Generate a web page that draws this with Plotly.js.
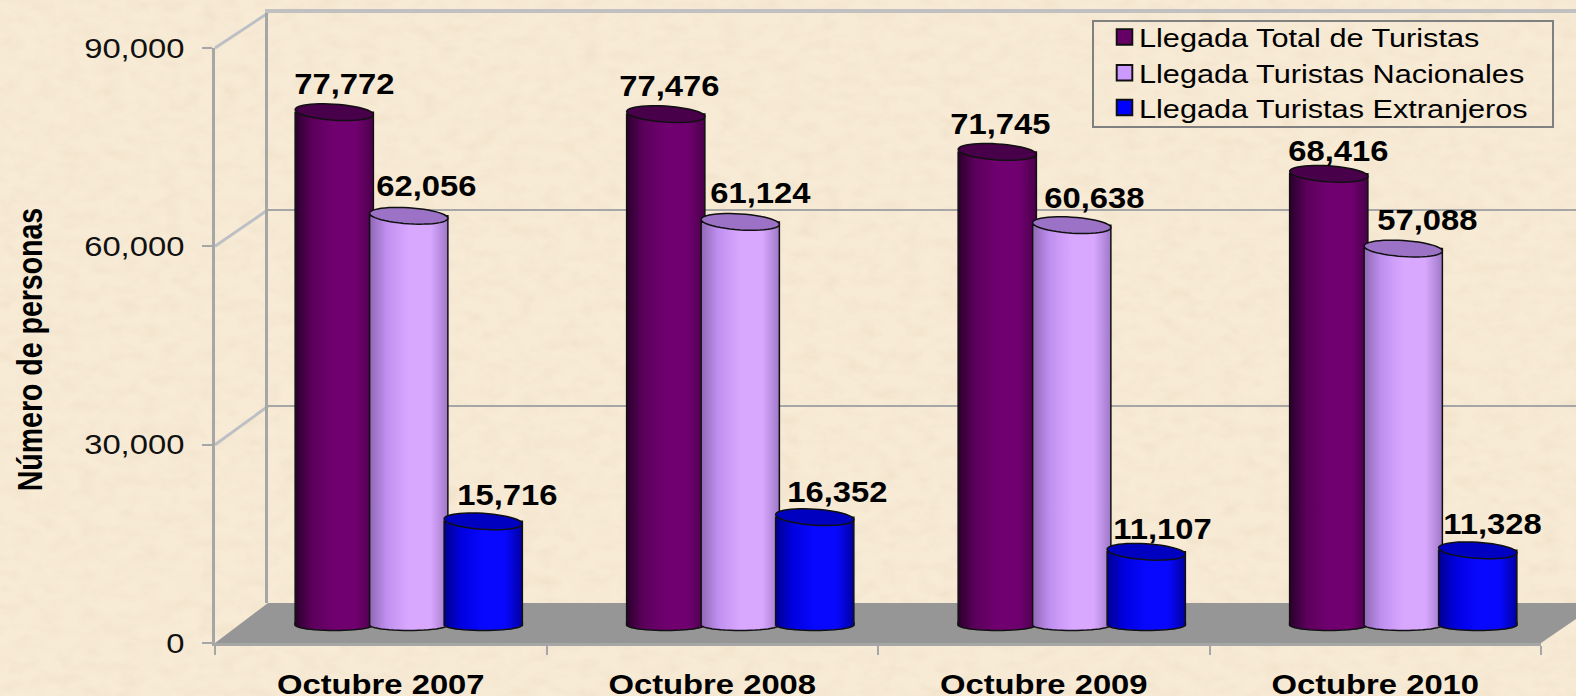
<!DOCTYPE html>
<html><head><meta charset="utf-8">
<script src="https://cdn.plot.ly/plotly-3.0.1.min.js"></script>
<style>
html,body{margin:0;padding:0;background:#f7e9d3;overflow:hidden}
#bg{position:absolute;left:0;top:0}
#chart{position:absolute;left:0;top:0;width:1576px;height:696px}
</style></head><body>
<svg id="bg" width="1576" height="696">
<filter id="paper" x="0" y="0" width="100%" height="100%">
<feTurbulence type="fractalNoise" baseFrequency="0.05 0.08" numOctaves="4" seed="7"/>
<feColorMatrix type="matrix" values="0 0 0 0 0.82  0 0 0 0 0.70  0 0 0 0 0.52  0.6 0.6 0 0 -0.50"/>
</filter>
<rect width="1576" height="696" fill="#f8ebd6"/>
<rect width="1576" height="696" filter="url(#paper)"/>
</svg>
<div id="chart"></div>
<script>
const categories = ['Octubre 2007','Octubre 2008','Octubre 2009','Octubre 2010'];
const totalTuristas = [77772,77476,71745,68416];
const nacionales = [62056,61124,60638,57088];
const extranjeros = [15716,16352,11107,11328];
const seriesNames = ['Llegada Total de Turistas','Llegada Turistas Nacionales','Llegada Turistas Extranjeros'];
const yTicks = [0,30000,60000,90000];

const W=1576,H=696, FONT='"Liberation Sans",Arial,sans-serif', STRETCH=1.17;
const series=[totalTuristas,nacionales,extranjeros];
const bodyColors=['#660066','#CC99FF','#0000FF'];
const topColors=['#48004a','#9b72c6','#0000c0'];
const stops=[['#2a002c','#5c005c','#700070','#700070','#4a004a'],
             ['#8f68b4','#c090f0','#d8a8ff','#d8a8ff','#a078c8'],
             ['#000090','#0000e0','#0808ff','#0808ff','#0000a0']];
const barW=0.236, barStep=0.2247;
// label placement relative to the top of each bar (pixels)
const labelDx=[[10,4,3,10],[18,20,23,24],[24,23,16,15]];
const labelDy=[[28,28,28,23],[30,29,27,29],[26,25,23,26]];

const domY=(top,bot)=>[1-bot/H,1-top/H];
const frontScale=595/90000, pxPerUnit=593.5/90000;
const base=625, floorPad=2000;

const traces=series.map((v,i)=>({
  type:'bar',name:seriesNames[i],x:categories.map((_,k)=>k),y:v,xaxis:'x3',yaxis:'y3',
  width:barW,offset:(i-1)*barStep-barW/2,
  marker:{color:bodyColors[i],line:{color:'#101010',width:1.5}},hoverinfo:'skip'
}));
traces.push({type:'scatter',x:[0],y:[0],mode:'markers',opacity:0,showlegend:false,hoverinfo:'skip',xaxis:'x',yaxis:'y'});
traces.push({type:'scatter',x:categories,y:categories.map(()=>0),mode:'markers',opacity:0,showlegend:false,hoverinfo:'skip',xaxis:'x2',yaxis:'y2'});

function ellipse(cx,cy,rx,hhPx,tiltPx){
  let d='';
  for(let k=0;k<=48;k++){
    const t=k/48*2*Math.PI;
    const x=cx+rx*Math.cos(t);
    const y=cy+(hhPx*Math.sin(t)+tiltPx*Math.cos(t))/pxPerUnit;
    d+=(k?'L':'M')+x.toFixed(4)+','+y.toFixed(1);
  }
  return d+'Z';
}
// lower half of the base ellipse, open along the top so only the arc is outlined
function baseArc(cx,rx,hhPx,liftPx){
  let d='M'+(cx+rx).toFixed(4)+','+(liftPx/pxPerUnit).toFixed(1);
  for(let k=0;k<=24;k++){
    const t=k/24*Math.PI;
    d+='L'+(cx+rx*Math.cos(t)).toFixed(4)+','+((-hhPx*Math.sin(t))/pxPerUnit).toFixed(1);
  }
  return d+'L'+(cx-rx).toFixed(4)+','+(liftPx/pxPerUnit).toFixed(1);
}
const shapes=[];
// floor
shapes.push({type:'path',xref:'paper',yref:'paper',layer:'below',fillcolor:'#969696',line:{width:0},
  path:`M${215/W},${1-643/H} L${268/W},${1-603/H} L1,${1-603/H} L1,${1-619/H} L${1541/W},${1-643/H} Z`});
// side wall diagonals
const yFront=v=>643-v*frontScale, yBack=v=>603-v*(590/90000);
yTicks.slice(1).forEach(v=>shapes.push({type:'line',xref:'paper',yref:'paper',layer:'below',
  x0:215/W,x1:268/W,y0:1-yFront(v)/H,y1:1-yBack(v)/H,line:{color:'#bcc0c4',width:3}}));
// cylinder bases and tops, in front of the bar bodies
const bottomIdx=[];
series.forEach((v,i)=>{
  v.forEach((val,k)=>{
    const cx=k+(i-1)*barStep;
    bottomIdx.push([shapes.length,i]);
    shapes.push({type:'path',xref:'x3',yref:'y3',layer:'above',fillcolor:bodyColors[i],line:{color:'#101010',width:1.5},
      path:baseArc(cx,barW/2,5.5,3)});
    shapes.push({type:'path',xref:'x3',yref:'y3',layer:'above',fillcolor:topColors[i],line:{color:'#101010',width:1.5},
      path:ellipse(cx,val,barW/2,8,-2.5)});
  });
});

const annotations=[];
series.forEach((v,i)=>v.forEach((val,k)=>annotations.push({
  x:k+(i-1)*barStep,y:val,xref:'x3',yref:'y3',text:val.toLocaleString('en-US'),showarrow:false,
  xanchor:'center',yanchor:'middle',xshift:labelDx[i][k],yshift:labelDy[i][k],
  font:{family:FONT,size:29,color:'#000',weight:700}
})));

const gridGrey='#a6a6a6';
const layout={
  width:W,height:H,margin:{l:0,r:0,t:0,b:0},paper_bgcolor:'rgba(0,0,0,0)',plot_bgcolor:'rgba(0,0,0,0)',
  barmode:'overlay',showlegend:true,
  legend:{x:1092/W,y:1-20/H,xanchor:'left',yanchor:'top',bgcolor:'rgba(0,0,0,0)',bordercolor:'#808080',borderwidth:2,
    font:{family:FONT,size:26,color:'#000'},itemwidth:35,traceorder:'normal',entrywidth:491,entrywidthmode:'pixels'},
  xaxis:{domain:[268/W,1],range:[0,1],anchor:'y',side:'top',showline:true,linecolor:'#c0c0c0',linewidth:4,
    showticklabels:false,ticks:'',showgrid:false,zeroline:false},
  yaxis:{domain:domY(13,603),range:[0,90000],anchor:'x',tickvals:yTicks,showticklabels:false,ticks:'',
    showgrid:true,gridcolor:gridGrey,gridwidth:2,zeroline:false,showline:true,linecolor:gridGrey,linewidth:3},
  xaxis2:{domain:[215/W,1541/W],type:'category',categoryorder:'array',categoryarray:categories,range:[-0.5,3.5],anchor:'y2',
    tickson:'boundaries',ticks:'outside',ticklen:9,tickwidth:2,tickcolor:gridGrey,showline:true,linecolor:gridGrey,linewidth:3,
    showgrid:false,zeroline:false,ticklabelstandoff:14,tickfont:{family:FONT,size:28,color:'#000',weight:700}},
  yaxis2:{domain:domY(48,643),range:[0,90000],anchor:'x2',tickvals:yTicks,tickformat:',d',ticks:'outside',ticklen:10,tickwidth:2,
    tickcolor:gridGrey,showline:true,linecolor:gridGrey,linewidth:3,showgrid:false,zeroline:false,ticklabelstandoff:12,
    tickfont:{family:FONT,size:28,color:'#111'},
    title:{text:'Número de personas',font:{family:FONT,size:28.5,color:'#000',weight:700},standoff:51}},
  xaxis3:{domain:[243/W,1569/W],range:[-0.5,3.5],anchor:'y3',visible:false},
  yaxis3:{domain:domY(base-90000*pxPerUnit,base+floorPad*pxPerUnit),range:[-floorPad,90000],anchor:'x3',visible:false},
  shapes,annotations
};

function stretchX(el,where,s){
  const b=el.getBBox();
  const a=where==='left'?b.x:where==='right'?b.x+b.width:b.x+b.width/2;
  const old=el.getAttribute('transform')||'';
  el.setAttribute('transform',`${old} translate(${a},0) scale(${s||STRETCH},1) translate(${-a},0)`);
}
function stretchRotated(el){
  const b=el.getBBox(), a=b.y+b.height/2;
  const old=el.getAttribute('transform')||'';
  el.setAttribute('transform',`translate(0,4) ${old} translate(0,${a}) scale(1,1.25) translate(0,${-a})`);
}

Plotly.newPlot('chart',traces,layout,{staticPlot:true,displayModeBar:false}).then(gd=>{
  const svg=gd.querySelector('svg.main-svg');
  const NS='http://www.w3.org/2000/svg';
  let defs=svg.querySelector('defs');
  stops.forEach((s,i)=>{
    const g=document.createElementNS(NS,'linearGradient');
    g.setAttribute('id','cyl'+i);g.setAttribute('x1','0');g.setAttribute('x2','1');g.setAttribute('y1','0');g.setAttribute('y2','0');
    [0,0.22,0.5,0.78,1].forEach((o,j)=>{
      const st=document.createElementNS(NS,'stop');st.setAttribute('offset',o);st.setAttribute('stop-color',s[j]);g.appendChild(st);
    });
    defs.appendChild(g);
  });
  gd.querySelectorAll('.barlayer .trace.bars').forEach((t,i)=>{
    t.querySelectorAll('.point path').forEach(p=>{p.style.fill='url(#cyl'+i+')';});
  });
  bottomIdx.forEach(([idx,i])=>{
    gd.querySelectorAll('path[data-index="'+idx+'"]').forEach(p=>{p.style.fill='url(#cyl'+i+')';});
  });
  gd.querySelectorAll('.annotation-text').forEach(t=>stretchX(t,'center',1.13));
  gd.querySelectorAll('.x2tick text').forEach(t=>stretchX(t,'center'));
  gd.querySelectorAll('.y2tick text').forEach(t=>stretchX(t,'right'));
  gd.querySelectorAll('.legendtext').forEach(t=>stretchX(t,'left',1.18));
  gd.querySelectorAll('.y2title').forEach(stretchRotated);
  gd.querySelectorAll('.legendpoints path').forEach(p=>{p.setAttribute('transform','translate(30.5,0) scale(1.3)');});
  // fit the legend box and rows to the reference
  const lg=gd.querySelector('.legend');
  const sb=lg.querySelector('.scrollbox');
  if(sb) sb.removeAttribute('clip-path');
  const bg=lg.querySelector('rect.bg');
  if(bg){bg.setAttribute('height',106);bg.setAttribute('width',460);}
  const rowShift=[-8.5,-9.5,-11.5];
  lg.querySelectorAll('.traces').forEach((t,i)=>{
    const m=/translate\(([-\d.]+),\s*([-\d.]+)\)/.exec(t.getAttribute('transform')||'');
    if(m) t.setAttribute('transform',`translate(${m[1]},${parseFloat(m[2])+rowShift[i]})`);
  });
});
</script>
</body></html>
